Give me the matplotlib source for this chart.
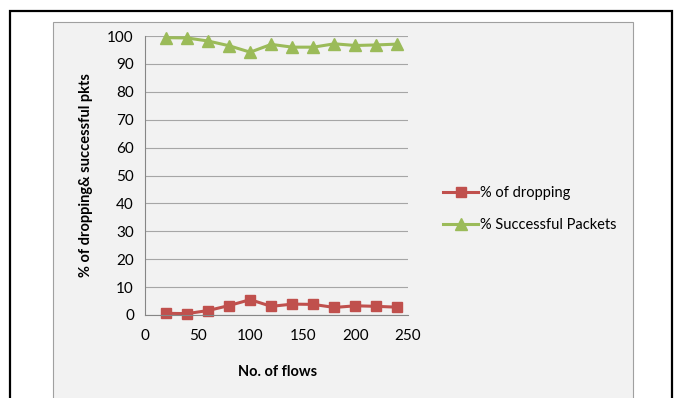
import matplotlib.pyplot as plt
from matplotlib.patches import Rectangle

plt.rcParams['font.family'] = ['Lato', 'DejaVu Sans']

# number of flows vs. packet outcome (%)
flows = [20, 40, 60, 80, 100, 120, 140, 160, 180, 200, 220, 240]
dropping = [0.6, 0.5, 1.6, 3.4, 5.5, 3.1, 3.9, 3.8, 2.7, 3.3, 3.1, 2.8]
successful = [99.4, 99.3, 98.2, 96.5, 94.2, 97.0, 96.0, 96.0, 97.2, 96.6, 96.8, 97.1]

fig = plt.figure(figsize=(6.75, 3.98), dpi=100)

# outer frame and grey chart area
W, H = 675, 398
fig.patches.append(Rectangle((10 / W, -0.05), 662 / W, 1.05 - 11 / H,
                             transform=fig.transFigure, fill=False,
                             edgecolor='black', linewidth=1.6, zorder=-2))
fig.patches.append(Rectangle((53 / W, -0.05), 580 / W, 1.05 - 22 / H,
                             transform=fig.transFigure, facecolor='#f2f2f2',
                             edgecolor='#a0a0a0', linewidth=0.8, zorder=-1))

ax = fig.add_axes([145 / W, 1 - 315 / H, 263 / W, 279 / H])
ax.set_facecolor('#f2f2f2')

ax.plot(flows, dropping, color='#C0504D', marker='s', markersize=7,
        linewidth=2.2, label='% of dropping', clip_on=False)
ax.plot(flows, successful, color='#9BBB59', marker='^', markersize=8,
        linewidth=2.2, label='% Successful Packets', clip_on=False)

ax.set_xlim(0, 250)
ax.set_ylim(0, 100)
ax.set_xticks(range(0, 251, 50))
ax.set_yticks(range(0, 101, 10))
ax.grid(axis='y', color='#a6a6a6', linewidth=0.8)
ax.set_axisbelow(True)
for side in ['top', 'right']:
    ax.spines[side].set_visible(False)
for side in ['left', 'bottom']:
    ax.spines[side].set_color('#868686')
ax.tick_params(axis='both', labelsize=11, length=0, pad=8)
ax.tick_params(axis='x', pad=10)

fig.text(278 / W, 1 - 372 / H, 'No. of flows', ha='center', va='center',
         fontsize=10.5, fontweight='bold')
fig.text(86 / W, 1 - 175 / H, '% of dropping& successful pkts', ha='center',
         va='center', rotation=90, fontsize=10.5, fontweight='bold')

ax.legend(loc='center left', bbox_to_anchor=(285 / 263, 0.38),
          frameon=False, fontsize=10.5, handlelength=2.4, handletextpad=0.1,
          labelspacing=1.2)

fig.savefig('out.png', dpi=100)
